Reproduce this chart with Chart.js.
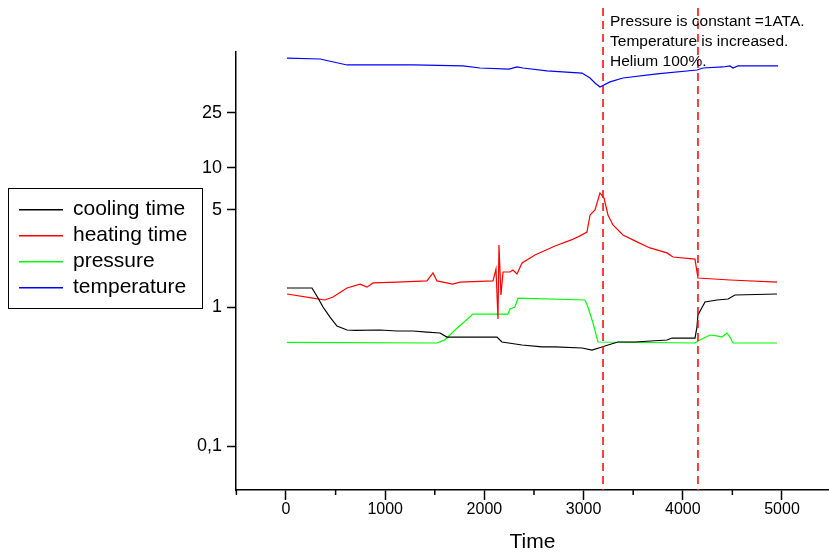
<!DOCTYPE html>
<html>
<head>
<meta charset="utf-8">
<script src="https://cdn.jsdelivr.net/npm/chart.js@4"></script>
<style>
  body { margin: 0; background: #fff; }
  #wrap { width: 829px; height: 553px; }
</style>
</head>
<body>
<div id="wrap"><canvas id="chart" width="829" height="553"></canvas></div>
<script>
// 数据
const seriesNames = ['cooling time', 'heating time', 'pressure', 'temperature'];
const seriesColors = ['#000000', '#ff0000', '#00ff00', '#0000ff'];

const coolingTimes = [10, 262, 323, 373, 444, 514, 615, 700, 948, 1119, 1280, 1421, 1552, 1623, 1754, 2127, 2177, 2379, 2581, 2712, 2984, 3085, 3185, 3246, 3347, 3518, 3841, 3891, 4123, 4143, 4153, 4224, 4345, 4456, 4526, 4950];
const coolingValues = [1.37, 1.37, 1.16, 1.0, 0.847, 0.73, 0.683, 0.68, 0.683, 0.672, 0.672, 0.66, 0.65, 0.608, 0.608, 0.608, 0.56, 0.533, 0.516, 0.516, 0.507, 0.49, 0.516, 0.533, 0.56, 0.56, 0.579, 0.598, 0.598, 0.718, 0.876, 1.086, 1.123, 1.142, 1.22, 1.24];

const heatingTimes = [10, 272, 393, 474, 615, 746, 817, 877, 1119, 1421, 1482, 1522, 1680, 1754, 2087, 2117, 2137, 2147, 2167, 2188, 2258, 2288, 2329, 2379, 2510, 2712, 2883, 2964, 3034, 3065, 3115, 3165, 3206, 3246, 3296, 3397, 3538, 3669, 3841, 3901, 4123, 4153, 4476, 4950];
const heatingValues = [1.24, 1.16, 1.123, 1.18, 1.37, 1.46, 1.39, 1.49, 1.51, 1.54, 1.76, 1.54, 1.46, 1.51, 1.54, 1.877, 0.82, 2.79, 1.22, 1.785, 1.785, 1.846, 1.727, 2.073, 2.366, 2.75, 3.05, 3.25, 3.46, 4.59, 4.99, 6.61, 6.08, 4.59, 3.89, 3.3, 2.94, 2.66, 2.45, 2.29, 2.21, 1.617, 1.564, 1.51];

const pressureTimes = [10, 1522, 1600, 1704, 1885, 2238, 2258, 2308, 2339, 3014, 3044, 3095, 3145, 4123, 4173, 4274, 4355, 4395, 4446, 4476, 4506, 4950];
const pressureValues = [0.557, 0.551, 0.58, 0.683, 0.89, 0.89, 0.967, 1.0, 1.16, 1.123, 1.0, 0.767, 0.56, 0.551, 0.579, 0.629, 0.618, 0.608, 0.65, 0.608, 0.551, 0.551];

const temperatureTimes = [10, 343, 615, 1280, 1784, 1956, 2248, 2329, 2389, 2631, 2984, 3065, 3115, 3165, 3266, 3397, 3740, 4143, 4204, 4405, 4476, 4506, 4556, 4960];
const temperatureValues = [61.8, 60.8, 55.1, 55.1, 54.2, 52.4, 51.5, 53.3, 52.4, 49.9, 48.2, 44.4, 40.9, 38.3, 41.6, 44.4, 47.5, 50.7, 52.4, 53.3, 54.2, 52.4, 54.2, 54.2];

// 刻度
const xTickValues = [0, 1000, 2000, 3000, 4000, 5000];
const xMinorTicks = [-500, 500, 1500, 2500, 3500, 4500];
const yTickValues = [0.1, 1, 5, 10, 25];
const yTickLabels = ['0,1', '1', '5', '10', '25'];

// 标记线 + 注释
const markerTimes = [3196, 4153];
const noteLines = ['Pressure is constant =1ATA.', 'Temperature is increased.', 'Helium 100%.'];

const FONT = '"Liberation Sans", Arial, sans-serif';

function zip(ts, vs) {
    return ts.map((t, i) => ({ x: t, y: vs[i] }));
}

const allTimes = [coolingTimes, heatingTimes, pressureTimes, temperatureTimes];
const allValues = [coolingValues, heatingValues, pressureValues, temperatureValues];

const datasets = seriesNames.map((name, i) => ({
    label: name,
    data: zip(allTimes[i], allValues[i]),
    borderColor: seriesColors[i],
    backgroundColor: seriesColors[i],
    borderWidth: 1.2,
    pointRadius: 0,
    tension: 0,
    fill: false
}));

// 自定义绘制: 虚线, 注释, 图例, 次刻度
const extras = {
    id: 'extras',
    afterDraw(chart) {
        const ctx = chart.ctx;
        const xs = chart.scales.x;
        const area = chart.chartArea;

        // minor ticks
        ctx.save();
        ctx.strokeStyle = '#000';
        ctx.lineWidth = 1.5;
        xMinorTicks.forEach(v => {
            const px = xs.getPixelForValue(v);
            ctx.beginPath();
            ctx.moveTo(px, area.bottom);
            ctx.lineTo(px, area.bottom + 5);
            ctx.stroke();
        });
        ctx.restore();

        // dashed markers
        ctx.save();
        ctx.strokeStyle = '#ff0000';
        ctx.lineWidth = 1.5;
        ctx.setLineDash([8, 5]);
        markerTimes.forEach(t => {
            const px = xs.getPixelForValue(t);
            ctx.beginPath();
            ctx.moveTo(px, 8);
            ctx.lineTo(px, area.bottom);
            ctx.stroke();
        });
        ctx.restore();

        // note
        ctx.save();
        ctx.fillStyle = '#000';
        ctx.font = '15.5px ' + FONT;
        ctx.textBaseline = 'middle';
        const nx = xs.getPixelForValue(markerTimes[0]) + 7;
        noteLines.forEach((s, i) => ctx.fillText(s, nx, 22 + i * 20));
        ctx.restore();

        // legend box
        ctx.save();
        ctx.setLineDash([]);
        ctx.strokeStyle = '#000';
        ctx.lineWidth = 1;
        ctx.strokeRect(8.5, 188.5, 194, 120);
        ctx.font = '21px ' + FONT;
        ctx.textBaseline = 'middle';
        seriesNames.forEach((name, i) => {
            const y = 209 + i * 26;
            ctx.fillStyle = seriesColors[i];
            ctx.fillRect(19, y, 44, 1.5);
            ctx.fillStyle = '#000';
            ctx.fillText(name, 73, y);
        });
        ctx.restore();
    }
};

new Chart(document.getElementById('chart').getContext('2d'), {
    type: 'line',
    data: { datasets: datasets },
    options: {
        responsive: false,
        animation: false,
        layout: { padding: { left: 192, top: 52, right: 0, bottom: 0 } },
        plugins: {
            legend: { display: false },
            tooltip: { enabled: false }
        },
        scales: {
            x: {
                type: 'linear',
                min: -504,
                max: 5474,
                afterFit: s => { s.height = 63; },
                afterBuildTicks: s => { s.ticks = xTickValues.map(v => ({ value: v })); },
                border: { display: true, color: '#000', width: 1.5 },
                grid: { drawOnChartArea: false, tickLength: 10, tickColor: '#000', tickWidth: 1.5 },
                ticks: {
                    autoSkip: false,
                    maxRotation: 0,
                    padding: 0,
                    color: '#000',
                    font: { family: FONT, size: 16 },
                    callback: v => String(v)
                },
                title: {
                    display: true,
                    text: 'Time',
                    color: '#000',
                    font: { family: FONT, size: 21, lineHeight: 1 },
                    padding: 0
                }
            },
            y: {
                type: 'logarithmic',
                min: 0.04826,
                max: 68.3,
                bounds: 'data',
                afterFit: s => { s.width = 44; },
                afterBuildTicks: s => { s.ticks = yTickValues.map(v => ({ value: v })); },
                border: { display: true, color: '#000', width: 1.5 },
                grid: { drawOnChartArea: false, tickLength: 9, tickColor: '#000', tickWidth: 1.5 },
                ticks: {
                    autoSkip: false,
                    padding: 5,
                    color: '#000',
                    font: { family: FONT, size: 18 },
                    callback: v => {
                        const i = yTickValues.indexOf(v);
                        return i >= 0 ? yTickLabels[i] : '';
                    }
                }
            }
        }
    },
    plugins: [extras]
});
</script>
</body>
</html>
